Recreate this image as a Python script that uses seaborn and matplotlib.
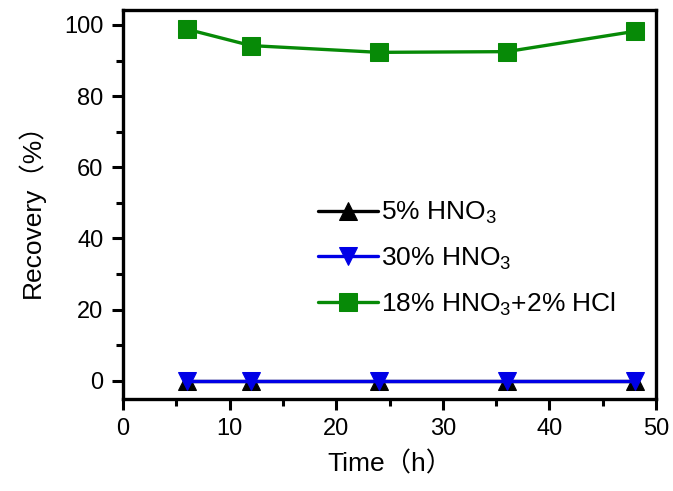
import matplotlib
matplotlib.use("Agg")
import matplotlib.pyplot as plt
import seaborn as sns
import pandas as pd
from matplotlib.ticker import MultipleLocator

time_h = [6, 12, 24, 36, 48]
hno3_5 = [0, 0, 0, 0, 0]
hno3_30 = [0, 0, 0, 0, 0]
hno3_hcl = [98.8, 94.2, 92.3, 92.5, 98.2]
labels = ["5% HNO$_3$", "30% HNO$_3$", "18% HNO$_3$+2% HCl"]
colors = ["black", "#0000e6", "#078a07"]
markers = ["^", "v", "s"]

sns.set_style("ticks")
plt.rcParams['font.family'] = ['Liberation Sans', 'Noto Sans CJK SC', 'DejaVu Sans']
plt.rcParams['mathtext.fontset'] = 'custom'
plt.rcParams['mathtext.rm'] = 'Liberation Sans'
plt.rcParams['mathtext.it'] = 'Liberation Sans'
plt.rcParams['text.color'] = 'black'
plt.rcParams['axes.labelcolor'] = 'black'
plt.rcParams['xtick.color'] = 'black'
plt.rcParams['ytick.color'] = 'black'

fig = plt.figure(figsize=(6.73, 4.91), dpi=100)
ax = fig.add_axes([123/673, 92/491, 533/673, 389/491])

series = [hno3_5, hno3_30, hno3_hcl]
for vals, lab, c, m in zip(series, labels, colors, markers):
    df = pd.DataFrame({"t": time_h, "r": vals})
    sns.lineplot(data=df, x="t", y="r", ax=ax, color=c, marker=m, markersize=12.5,
                 markeredgecolor=c, linewidth=2.4, label=lab)

ax.set_xlim(0, 50)
ax.set_ylim(-5.1, 104.2)
ax.xaxis.set_major_locator(MultipleLocator(10))
ax.xaxis.set_minor_locator(MultipleLocator(5))
ax.yaxis.set_major_locator(MultipleLocator(20))
ax.yaxis.set_minor_locator(MultipleLocator(10))
ax.tick_params(which='major', direction='out', length=8, width=2.2, labelsize=17, pad=6,
               colors='black')
ax.tick_params(which='minor', direction='out', length=5, width=2.2, colors='black')
for s in ax.spines.values():
    s.set_linewidth(2.4)
    s.set_color('black')
lab_family = ['Liberation Sans', 'Noto Sans CJK SC', 'DejaVu Sans']
ax.set_xlabel("Time（h）", fontsize=19, family=lab_family, labelpad=8, color='black')
ax.set_ylabel("Recovery（%）", fontsize=19, family=lab_family, labelpad=14, color='black')

leg = ax.legend(loc='center left', bbox_to_anchor=(0.365, 0.36), frameon=False,
                fontsize=19, handlelength=2.3, handletextpad=0.1, labelspacing=0.72,
                borderpad=0, borderaxespad=0)
for t in leg.get_texts():
    t.set_color('black')

fig.savefig("out.png", dpi=100)
